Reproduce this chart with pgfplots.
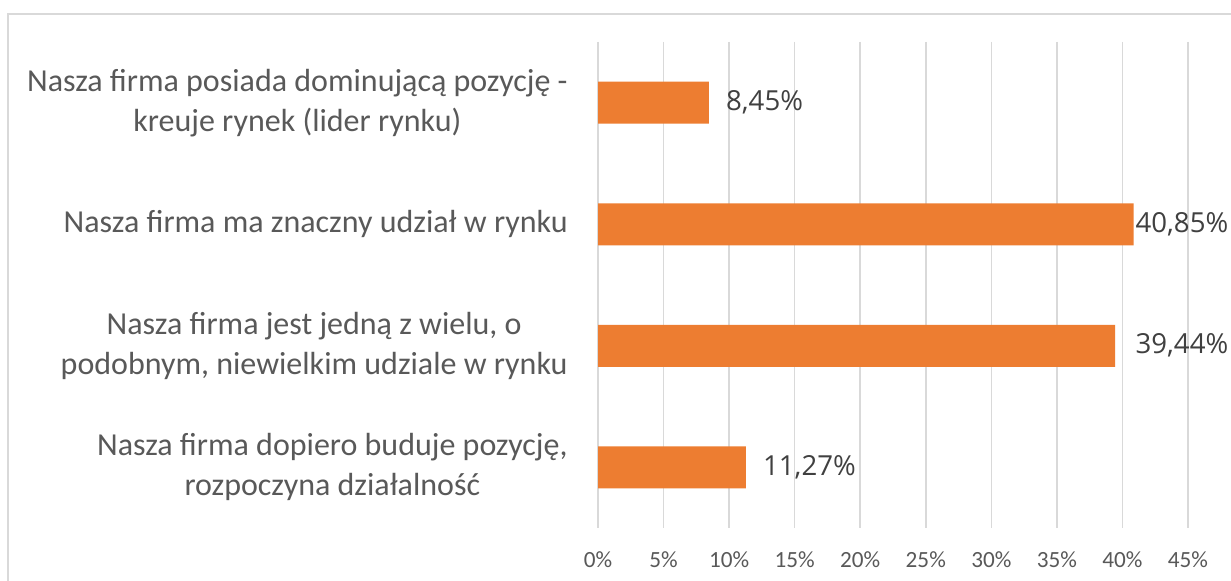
\documentclass[border=0pt]{standalone}
\usepackage{pgfplots}
\pgfplotsset{compat=1.18}
\usepackage{fontspec}
\setmainfont{Carlito}
\newfontfamily\valfont{Open Sans}
\definecolor{barc}{HTML}{ED7D31}
\definecolor{gridc}{HTML}{D9D9D9}
\definecolor{labc}{HTML}{595959}
\definecolor{valc}{HTML}{404040}
\begin{document}
\begin{tikzpicture}
\useasboundingbox (0pt,0pt) rectangle (615.5pt,-290.5pt);
\fill[white] (0pt,0pt) rectangle (615.5pt,-290.5pt);
\draw[gridc, line width=0.8pt] (4pt,-300pt) -- (4pt,-7pt) -- (640pt,-7pt);
\begin{axis}[
  at={(299pt,-264pt)}, anchor=south west,
  scale only axis,
  width=295pt, height=243pt,
  xmin=0, xmax=45,
  ymin=-0.5, ymax=3.5,
  y dir=reverse,
  axis line style={draw=none},
  xtick={0,5,...,45},
  ytick={0,1,2,3},
  xmajorgrids,
  grid style={gridc, line width=0.75pt},
  major tick length=0pt,
  tick style={draw=none},
  xticklabels={0\%,5\%,10\%,15\%,20\%,25\%,30\%,35\%,40\%,45\%},
  xticklabel style={font=\fontsize{11.6}{13}\selectfont, text=labc, inner sep=0pt, anchor=north, yshift=-11.5pt},
  yticklabels={{Nasza firma posiada dominującą pozycję -\\kreuje rynek (lider rynku)},
               {Nasza firma ma znaczny udział w rynku},
               {Nasza firma jest jedną z wielu, o\\podobnym, niewielkim udziale w rynku},
               {Nasza firma dopiero buduje pozycję,\\rozpoczyna działalność}},
  yticklabel style={font=\fontsize{16}{20}\selectfont, text=labc, align=center, inner sep=0pt, anchor=east, xshift=-15pt},
  clip=false,
]
% bars with labels just outside their ends
\addplot[xbar, bar width=21pt, fill=barc, draw=none,
  point meta=x,
  nodes near coords={\pgfmathprintnumber[fixed,fixed zerofill,precision=2,use comma,assume math mode=true]{\pgfplotspointmeta}\%},
  nodes near coords style={font=\valfont\fontsize{13.8}{16}\selectfont, text=valc, anchor=west, inner sep=0pt, xshift=8.5pt},
] coordinates {
  (8.45,0)
  (11.27,3)
};
% long bars: labels pushed back inside the chart area
\addplot[xbar, bar width=21pt, fill=barc, draw=none] coordinates {
  (40.85,1)
  (39.44,2)
};
\addplot[only marks, mark=none,
  point meta=explicit symbolic,
  nodes near coords,
  nodes near coords style={font=\valfont\fontsize{13.8}{16}\selectfont, text=valc, anchor=east, inner sep=0pt},
] coordinates {
  (48.1,1) [40,85\%]
  (48.1,2) [39,44\%]
};
\end{axis}
\end{tikzpicture}
\end{document}
